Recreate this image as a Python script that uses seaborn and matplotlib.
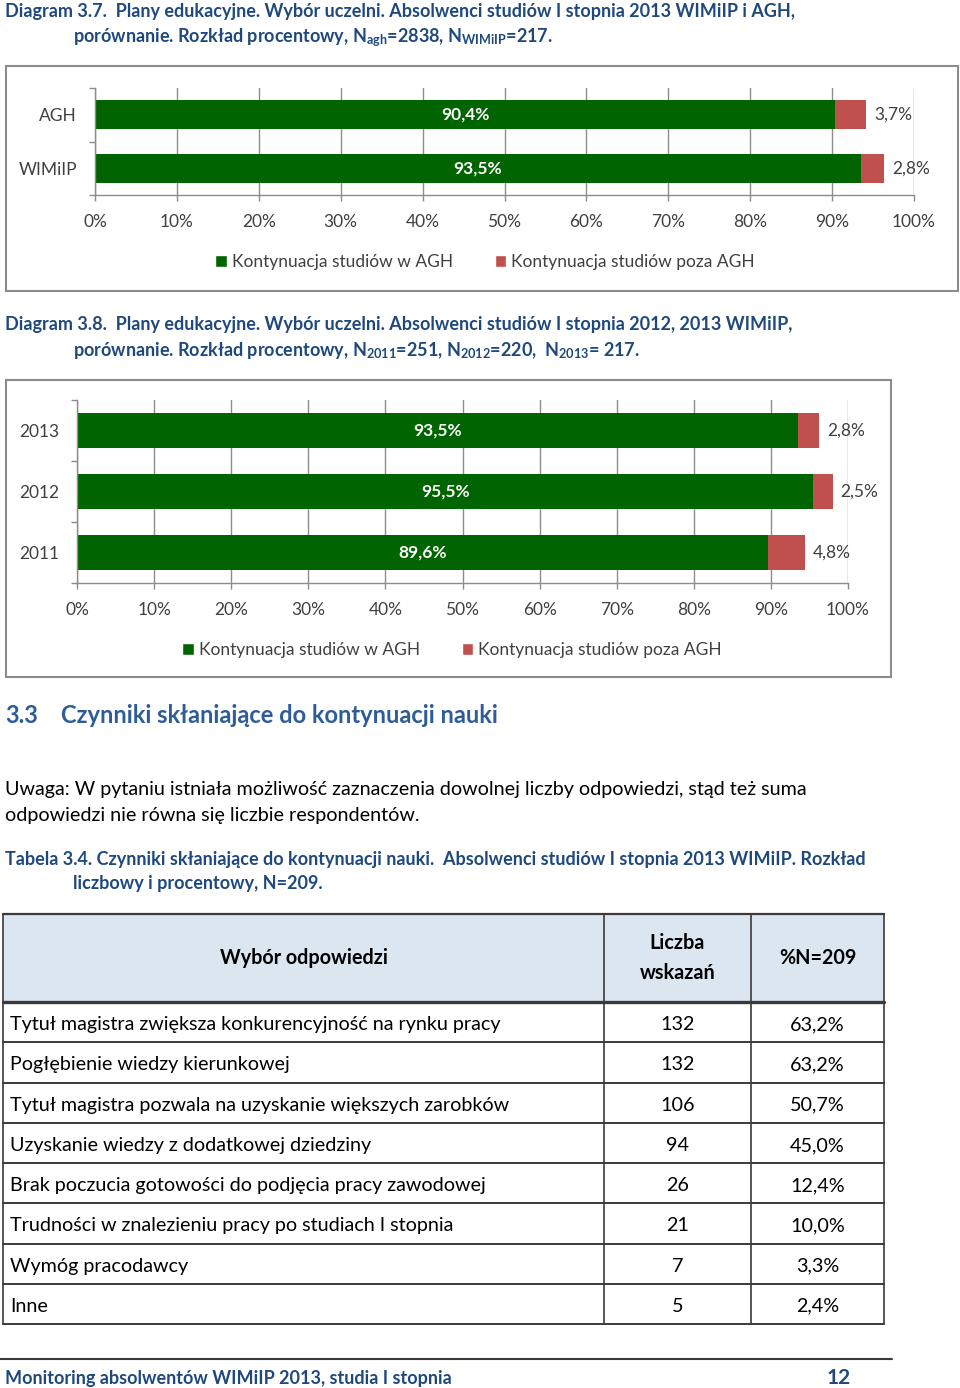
import matplotlib
matplotlib.use('Agg')
import matplotlib.pyplot as plt
import seaborn as sns
import pandas as pd
from matplotlib.patches import Rectangle, Patch

sns.set_theme(style='white')
plt.rcParams['font.family'] = ['Lato', 'DejaVu Sans']
plt.rcParams['mathtext.fontset'] = 'custom'
plt.rcParams['mathtext.rm'] = 'Lato'
plt.rcParams['mathtext.bf'] = 'Lato:bold'
plt.rcParams['mathtext.it'] = 'Lato:italic'

# ---------------- data ----------------
d1_groups = ['AGH', 'WIMiIP']
d1_in = [90.4, 93.5]
d1_out = [3.7, 2.8]

d2_years = ['2013', '2012', '2011']
d2_in = [93.5, 95.5, 89.6]
d2_out = [2.8, 2.5, 4.8]

series_names = ['Kontynuacja studiów w AGH', 'Kontynuacja studiów poza AGH']
x_ticks = [0, 10, 20, 30, 40, 50, 60, 70, 80, 90, 100]

tbl_header = ['Wybór odpowiedzi', 'Liczba\nwskazań', '%N=209']
tbl_answers = [
    'Tytuł magistra zwiększa konkurencyjność na rynku pracy',
    'Pogłębienie wiedzy kierunkowej',
    'Tytuł magistra pozwala na uzyskanie większych zarobków',
    'Uzyskanie wiedzy z dodatkowej dziedziny',
    'Brak poczucia gotowości do podjęcia pracy zawodowej',
    'Trudności w znalezieniu pracy po studiach I stopnia',
    'Wymóg pracodawcy',
    'Inne',
]
tbl_counts = [132, 132, 106, 94, 26, 21, 7, 5]
tbl_pct = [63.2, 63.2, 50.7, 45.0, 12.4, 10.0, 3.3, 2.4]

# ---------------- styles ----------------
W, H = 960, 1388
GREEN = '#006400'
RED = '#C0504D'
NAVY = '#1F497D'
BLUE = '#2E5C99'
GRID = '#8C8C8C'
FS_CHART = 12.5
FS_BODY = 14.2
FS_CAP = 12.95

fig = plt.figure(figsize=(W / 100, H / 100), dpi=100)
bg = fig.add_axes([0, 0, 1, 1])
bg.set_xlim(0, W)
bg.set_ylim(H, 0)
bg.axis('off')


def add_ax(x0, y0, x1, y1):
    return fig.add_axes([x0 / W, 1 - y1 / H, (x1 - x0) / W, (y1 - y0) / H])


def pct(v):
    return f'{v:.1f}%'.replace('.', ',')


def stacked_chart(ax, cats, vin, vout, width, leg_center):
    df = pd.DataFrame({'cat': cats, 'in': vin,
                       'total': [a + b for a, b in zip(vin, vout)],
                       'out': vout})
    sns.barplot(data=df, x='total', y='cat', orient='h', color=RED,
                width=width, ax=ax, saturation=1, errorbar=None, linewidth=0)
    sns.barplot(data=df, x='in', y='cat', orient='h', color=GREEN,
                width=width, ax=ax, saturation=1, errorbar=None, linewidth=0)
    n = len(cats)
    ax.set_xlim(0, 100)
    ax.set_ylim(n - 0.5, -0.5)
    ax.set_xticks(x_ticks)
    ax.set_xticklabels([f'{t}%' for t in x_ticks])
    ax.set_xlabel('')
    ax.set_ylabel('')
    ax.xaxis.grid(True, color=GRID, lw=1)
    ax.yaxis.grid(False)
    ax.set_axisbelow(True)
    for s in ['top', 'right']:
        ax.spines[s].set_visible(False)
    for s in ['left', 'bottom']:
        ax.spines[s].set_color(GRID)
        ax.spines[s].set_linewidth(1)
    ax.tick_params(axis='x', length=4, width=1, color=GRID, pad=9.5,
                   labelsize=FS_CHART, labelcolor='#404040', bottom=True)
    ax.tick_params(axis='y', which='major', length=0, pad=13,
                   labelsize=FS_CHART, labelcolor='#404040', left=False)
    ax.set_yticks([i - 0.5 for i in range(n + 1)], minor=True)
    ax.tick_params(axis='y', which='minor', length=4, width=1, color=GRID, left=True)
    for i, (a, b) in enumerate(zip(vin, vout)):
        ax.text(a / 2, i, pct(a), ha='center', va='center', color='white',
                fontsize=FS_CHART, fontweight='bold')
        ax.text(a + b + 1.0, i, pct(b), ha='left', va='center', color='#404040',
                fontsize=FS_CHART)
    handles = [Patch(facecolor=GREEN, label=series_names[0]),
               Patch(facecolor=RED, label=series_names[1])]
    ax.legend(handles=handles, loc='center', ncol=2, frameon=False,
              bbox_to_anchor=(leg_center[0] / W, 1 - leg_center[1] / H),
              bbox_transform=fig.transFigure, fontsize=FS_CHART,
              handlelength=0.65, handleheight=0.65, handletextpad=0.3,
              columnspacing=2.4, labelcolor='#404040')


# ---------------- Diagram 3.7 ----------------
bg.text(5, 10, 'Diagram 3.7.  Plany edukacyjne. Wybór uczelni. Absolwenci studiów I stopnia 2013 WIMiIP i AGH,',
        fontsize=FS_CAP, fontweight='bold', color=NAVY, va='center_baseline')
bg.text(73, 34, r'porównanie. Rozkład procentowy, N$_{\mathbf{agh}}$=2838, N$_{\mathbf{WIMiIP}}$=217.',
        fontsize=FS_CAP, fontweight='bold', color=NAVY, va='center_baseline')
bg.add_patch(Rectangle((6, 66), 952, 225, fill=False, edgecolor=GRID, lw=1.5))
ax1 = add_ax(95, 88, 914, 195)
stacked_chart(ax1, d1_groups, d1_in, d1_out, 0.54, (485, 262))

# ---------------- Diagram 3.8 ----------------
bg.text(5, 323, 'Diagram 3.8.  Plany edukacyjne. Wybór uczelni. Absolwenci studiów I stopnia 2012, 2013 WIMiIP,',
        fontsize=FS_CAP, fontweight='bold', color=NAVY, va='center_baseline')
bg.text(73, 348, r'porównanie. Rozkład procentowy, N$_{\mathbf{2011}}$=251, N$_{\mathbf{2012}}$=220,  N$_{\mathbf{2013}}$= 217.',
        fontsize=FS_CAP, fontweight='bold', color=NAVY, va='center_baseline')
bg.add_patch(Rectangle((6, 380), 885, 297, fill=False, edgecolor=GRID, lw=1.5))
ax2 = add_ax(77, 400, 848, 583)
stacked_chart(ax2, d2_years, d2_in, d2_out, 0.56, (452, 650))

# ---------------- Section 3.3 ----------------
bg.text(5, 713, '3.3', fontsize=17, fontweight='bold', color=BLUE, va='center_baseline')
bg.text(61, 713, 'Czynniki skłaniające do kontynuacji nauki', fontsize=17,
        fontweight='bold', color=BLUE, va='center_baseline')
bg.text(5, 788, 'Uwaga: W pytaniu istniała możliwość zaznaczenia dowolnej liczby odpowiedzi, stąd też suma',
        fontsize=FS_BODY, color='black', va='center_baseline')
bg.text(5, 814, 'odpowiedzi nie równa się liczbie respondentów.',
        fontsize=FS_BODY, color='black', va='center_baseline')
bg.text(5, 858, 'Tabela 3.4. Czynniki skłaniające do kontynuacji nauki.  Absolwenci studiów I stopnia 2013 WIMiIP. Rozkład',
        fontsize=FS_CAP, fontweight='bold', color=NAVY, va='center_baseline')
bg.text(73, 882, 'liczbowy i procentowy, N=209.',
        fontsize=FS_CAP, fontweight='bold', color=NAVY, va='center_baseline')

# ---------------- Table ----------------
tx = [3, 604, 751, 884]
t_top, t_head_bot = 914, 1002
row_h = (1324 - 1002) / len(tbl_answers)
LINE = '#3A3A3A'
bg.add_patch(Rectangle((tx[0], t_top), tx[-1] - tx[0], t_head_bot - t_top,
                       facecolor='#DCE6F1', edgecolor='none'))
bg.text((tx[0] + tx[1]) / 2, 958, tbl_header[0], ha='center', va='center',
        fontsize=FS_BODY, fontweight='bold', color='black')
bg.text((tx[1] + tx[2]) / 2, 958, tbl_header[1], ha='center', va='center',
        fontsize=FS_BODY, fontweight='bold', color='black', linespacing=1.65)
bg.text((tx[2] + tx[3]) / 2, 958, tbl_header[2], ha='center', va='center',
        fontsize=FS_BODY, fontweight='bold', color='black')
t_bot = t_head_bot + row_h * len(tbl_answers)
for i, (a, c, p) in enumerate(zip(tbl_answers, tbl_counts, tbl_pct)):
    yc = t_head_bot + row_h * (i + 0.5) + 1
    bg.text(10, yc, a, ha='left', va='center_baseline', fontsize=FS_BODY, color='black')
    bg.text((tx[1] + tx[2]) / 2, yc, str(c), ha='center', va='center_baseline',
            fontsize=FS_BODY, color='black')
    bg.text((tx[2] + tx[3]) / 2, yc, pct(p), ha='center', va='center_baseline',
            fontsize=FS_BODY, color='black')
    bg.plot([tx[0], tx[-1]], [t_head_bot + row_h * (i + 1)] * 2, color=LINE, lw=1.4)
bg.plot([tx[0], tx[-1]], [t_top, t_top], color=LINE, lw=1.6)
bg.plot([tx[0], tx[-1]], [t_head_bot, t_head_bot], color=LINE, lw=2.4)
for x in tx:
    bg.plot([x, x], [t_top, t_bot], color=LINE, lw=1.2)

# ---------------- Footer ----------------
bg.plot([0, 892], [1359, 1359], color=LINE, lw=1.5)
bg.text(5, 1377, 'Monitoring absolwentów WIMiIP 2013, studia I stopnia', fontsize=FS_CAP,
        fontweight='bold', color=NAVY, va='center_baseline')
bg.text(839, 1376, '12', fontsize=15, fontweight='bold', color=NAVY, ha='center',
        va='center_baseline')

fig.savefig('out.png', dpi=100)
